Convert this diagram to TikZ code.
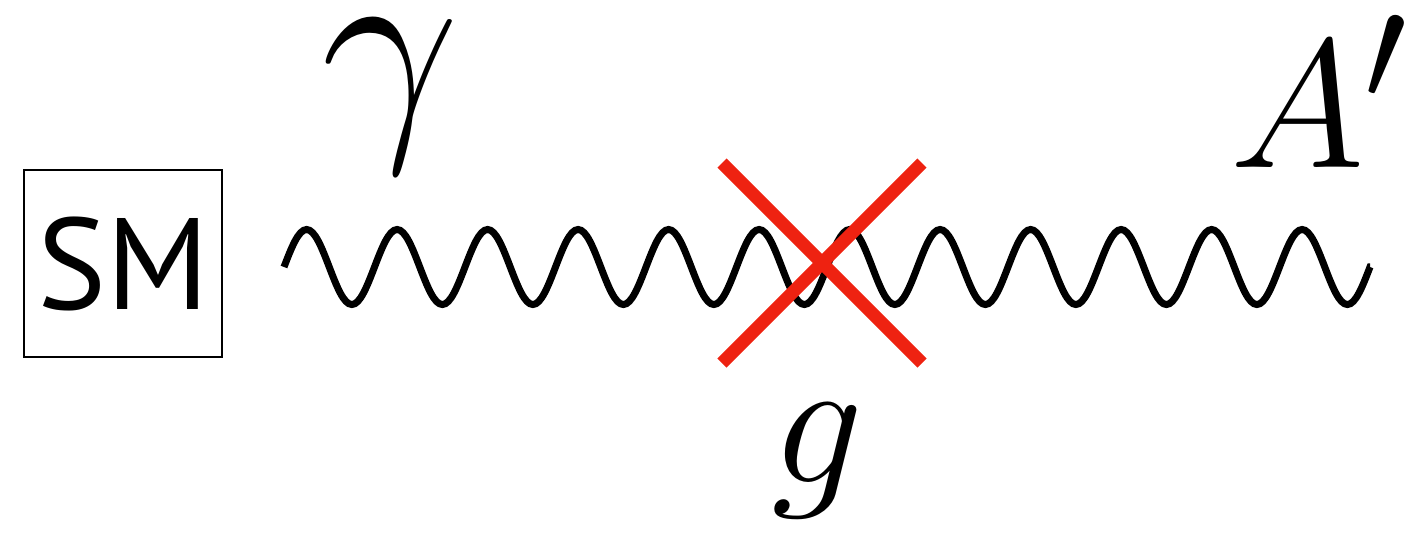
\RequirePackage{fix-cm}
\documentclass[tikz,border=0pt]{standalone}
\usepackage{fontspec}
\newfontfamily\smfont{PT Sans}
\usepackage{tikz}
\definecolor{crossRed}{RGB}{238, 34, 17}
\DeclareMathSizes{104}{104}{86.7}{69.4}

\begin{document}
\begin{tikzpicture}[x=0.02cm, y=-0.02cm,
    photon/.style={line width=4pt},
    fieldlabel/.style={inner sep=0pt, anchor=base},
    veto/.style={crossRed, line width=7.4pt}]
    \useasboundingbox (0,0) rectangle (1404,532);
    % Sector box
    \node[draw, line width=1pt, minimum width=3.96cm, minimum height=3.74cm, inner sep=0pt, font=\smfont\fontsize{74}{74}\selectfont] (sm) at (123,263.5) {SM};
    % Ends of the propagator
    \coordinate (photonIn) at (284,267);
    \coordinate (photonOut) at (1370,267);
    \coordinate (mixing) at (822,263);
    % Propagator, 12 periods
    \draw[photon] (photonIn) \foreach \k in {1,...,12} {
        sin ++(22.625,-37.5) cos ++(22.625,37.5) sin ++(22.625,37.5) cos ++(22.625,-37.5)} -- (photonOut);
    % Labels
    \node[fieldlabel, font=\fontsize{140}{140}\selectfont] (gam) at (391,125) {$\gamma$};
    \node[fieldlabel, anchor=base west, font=\fontsize{104}{104}\selectfont] (dark) at (1230,167) {$A'$};
    \node[fieldlabel, font=\fontsize{104}{104}\selectfont] (coup) at (818,482) {$g$};
    % Cross
    \draw[veto] (mixing) ++(-100,-100) -- ++(200,200);
    \draw[veto] (mixing) ++(100,-100) -- ++(-200,200);
\end{tikzpicture}
\end{document}
